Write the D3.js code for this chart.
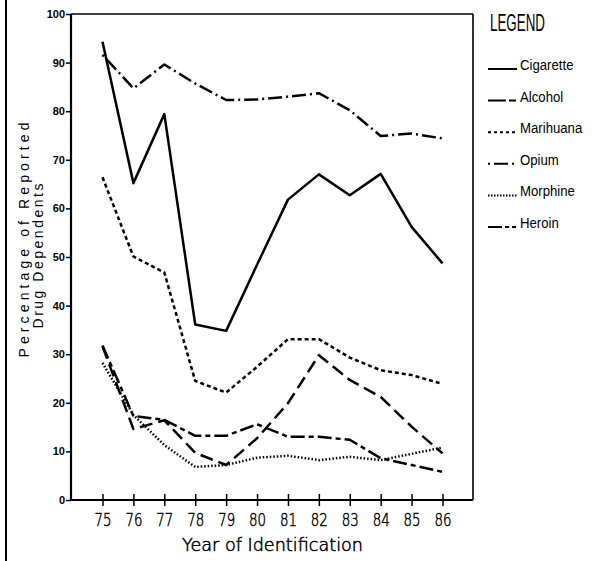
<!DOCTYPE html>
<html>
<head>
<meta charset="utf-8">
<style>
    body { margin: 0; background: #fff; }
    svg { display: block; }
    .ytick text { font: bold 11px "Liberation Sans", Arial, sans-serif; fill: #000; }
    .xtick text { font-family: "DejaVu Sans", sans-serif; font-size: 18px; font-weight: 200; fill: #000; stroke: #000; stroke-width: 0.5px; }
    .line { fill: none; stroke: #000; stroke-width: 2.5px; stroke-linejoin: round; }
    .frame { stroke: #000; fill: none; }
    .title { font-family: "Liberation Sans", Arial, sans-serif; fill: #000; }
    .thin { font-family: "DejaVu Sans", sans-serif; font-weight: 200; fill: #000; stroke: #000; stroke-width: 0.5px; }
</style>
</head>
<body>
<div id="chart"></div>
<script src="https://cdn.jsdelivr.net/npm/d3@7"></script>
<script>
// data
const years = [75, 76, 77, 78, 79, 80, 81, 82, 83, 84, 85, 86];
const cigarette = [94.3, 65.2, 79.4, 36.1, 34.8, 48.4, 61.8, 67.0, 62.7, 67.1, 56.2, 48.7];
const alcohol   = [31.6, 14.6, 16.4, 9.7, 7.2, 12.7, 19.9, 29.8, 24.7, 21.2, 15.1, 9.6];
const marihuana = [66.4, 50.1, 46.8, 24.5, 22.1, 27.4, 33.1, 33.1, 29.3, 26.7, 25.7, 23.9];
const opium     = [91.6, 84.7, 89.6, 85.7, 82.3, 82.4, 83.0, 83.7, 80.2, 74.9, 75.4, 74.4];
const morphine  = [28.2, 17.5, 11.3, 6.8, 7.2, 8.7, 9.1, 8.2, 8.9, 8.2, 9.5, 10.8];
const heroin    = [31.8, 17.3, 16.5, 13.2, 13.2, 15.6, 13.0, 13.0, 12.4, 8.6, 7.2, 5.8];
const yTicks = [0, 10, 20, 30, 40, 50, 60, 70, 80, 90, 100];

const series = [
    { name: "Cigarette", values: cigarette, dash: null,       legendDash: null },
    { name: "Alcohol",   values: alcohol,   dash: "13,6",     legendDash: "18,3,7,10" },
    { name: "Marihuana", values: marihuana, dash: "4,3",      legendDash: "3,3" },
    { name: "Opium",     values: opium,     dash: "2,4,14,4", legendDash: "2,4,14,4,2,10" },
    { name: "Morphine",  values: morphine,  dash: "1.5,2",    legendDash: "1.5,1.5" },
    { name: "Heroin",    values: heroin,    dash: "14,4,5,4", legendDash: "14,3,4,3,4,10" }
];

const W = 598, H = 561;
const margin = { top: 14, left: 71, right: 125, bottom: 61 };

const svg = d3.select("#chart").append("svg")
    .attr("width", W).attr("height", H);

// x axis spans 71..473, year 75 at ~102.5, 86 at ~442.5
const x = d3.scaleLinear().domain([75, 86]).range([102.5, 442.5]);
const y = d3.scaleLinear().domain([0, 100]).range([H - margin.bottom, margin.top]);
const x0 = margin.left, x1 = W - margin.right;

// outer left rule
svg.append("line").attr("class", "frame")
    .attr("x1", 6).attr("x2", 6).attr("y1", 0).attr("y2", H)
    .attr("stroke-width", 2);

// plot frame
svg.append("line").attr("class", "frame")
    .attr("x1", x0).attr("x2", x1).attr("y1", y(100)).attr("y2", y(100))
    .attr("stroke-width", 1.5).attr("stroke", "#444");
svg.append("line").attr("class", "frame")
    .attr("x1", x1).attr("x2", x1).attr("y1", y(100)).attr("y2", y(0))
    .attr("stroke-width", 1.6);

// y axis
const yAxis = svg.append("g").attr("class", "ytick")
    .attr("transform", "translate(" + x0 + ",0)")
    .call(d3.axisLeft(y).tickValues(yTicks).tickSize(5).tickPadding(1).tickFormat(d3.format("d")));
yAxis.select(".domain").attr("stroke-width", 2.2).attr("d", "M0," + y(0) + "V" + y(100));
yAxis.selectAll(".tick line").attr("stroke-width", 1.5);

// x axis
const xAxis = svg.append("g").attr("class", "xtick")
    .attr("transform", "translate(0," + y(0) + ")")
    .call(d3.axisBottom(x).tickValues(years).tickSize(0).tickPadding(13).tickFormat(d3.format("d")));
xAxis.select(".domain").attr("stroke-width", 2.2).attr("d", "M" + x0 + ",0H" + x1);
xAxis.selectAll(".tick line").attr("y1", -6).attr("y2", 6).attr("stroke-width", 1.5);
xAxis.selectAll(".tick text").attr("textLength", 17).attr("lengthAdjust", "spacingAndGlyphs");

// lines
const line = d3.line()
    .x(function (d, i) { return x(years[i]); })
    .y(function (d) { return y(d); });

svg.selectAll(".series")
    .data(series)
    .enter().append("path")
    .attr("class", "line")
    .attr("d", function (d) { return line(d.values); })
    .attr("stroke-dasharray", function (d) { return d.dash; });

// axis titles
svg.append("text").attr("class", "thin")
    .attr("x", 272.5).attr("y", 551)
    .attr("text-anchor", "middle")
    .style("font-size", "17px")
    .attr("textLength", 181).attr("lengthAdjust", "spacingAndGlyphs")
    .text("Year of Identification");

svg.append("text").attr("class", "title")
    .attr("transform", "translate(29,240) rotate(-90)")
    .attr("text-anchor", "middle")
    .style("font-size", "14px")
    .attr("textLength", 235).attr("lengthAdjust", "spacing")
    .text("Percentage of Reported");

svg.append("text").attr("class", "title")
    .attr("transform", "translate(43,256) rotate(-90)")
    .attr("text-anchor", "middle")
    .style("font-size", "14px")
    .attr("textLength", 145).attr("lengthAdjust", "spacing")
    .text("Drug Dependents");

// legend
svg.append("text").attr("class", "title")
    .attr("x", 490).attr("y", 31)
    .style("font-size", "23px")
    .attr("textLength", 55).attr("lengthAdjust", "spacingAndGlyphs")
    .text("LEGEND");

const rowY = d3.scalePoint().domain(series.map(function (d) { return d.name; })).range([70, 228]);

const item = svg.selectAll(".legend")
    .data(series)
    .enter().append("g")
    .attr("transform", function (d) { return "translate(0," + rowY(d.name) + ")"; });

item.append("line")
    .attr("x1", 488).attr("x2", 517).attr("y1", -1).attr("y2", -1)
    .attr("stroke", "#000").attr("stroke-width", 2)
    .attr("stroke-dasharray", function (d) { return d.legendDash; });

item.append("text").attr("class", "title")
    .attr("transform", "translate(520,0) scale(0.88,1)")
    .style("font-size", "15px")
    .text(function (d) { return d.name; });
</script>
</body>
</html>
